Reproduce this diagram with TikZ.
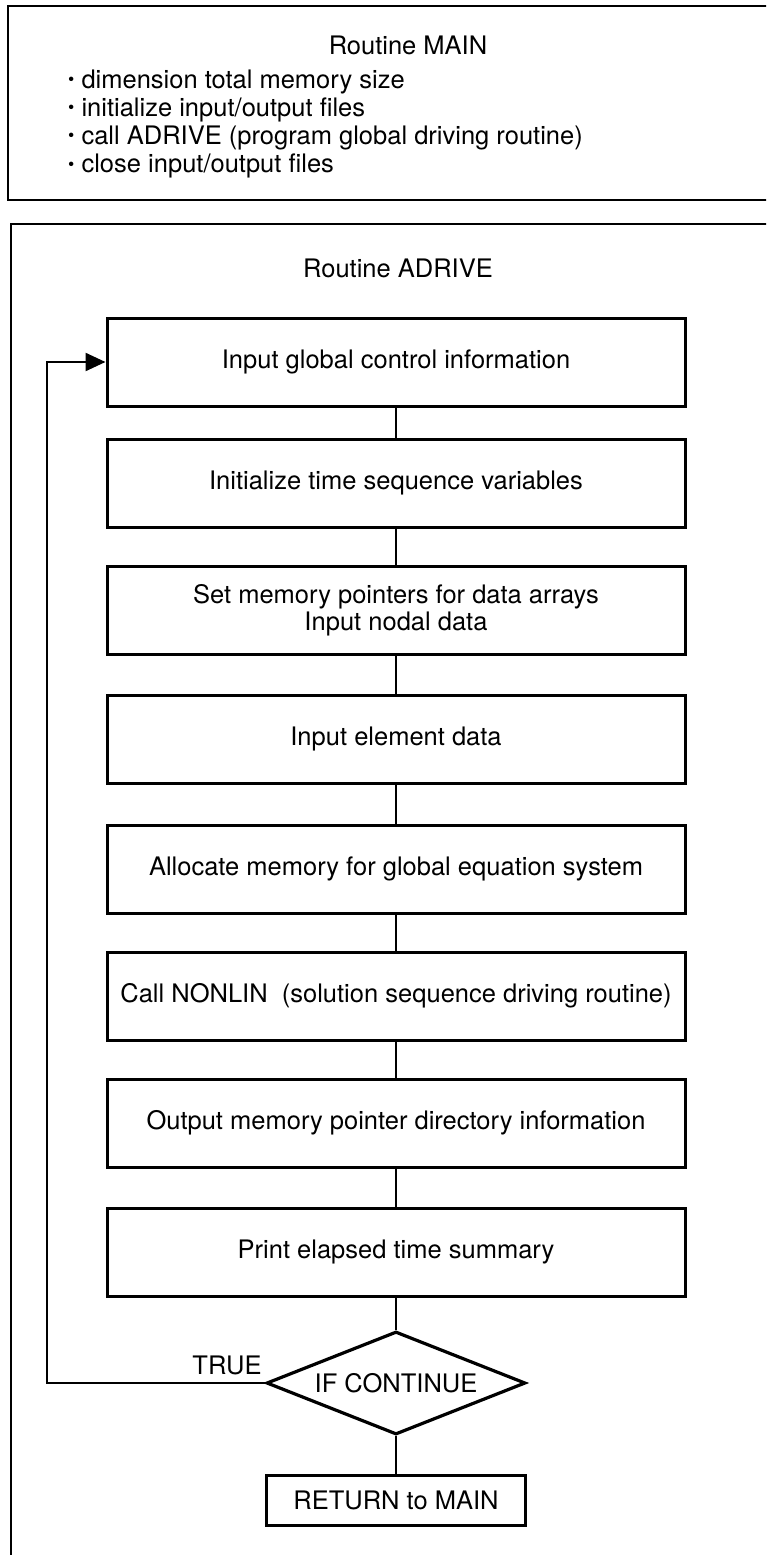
\documentclass[tikz,border=0pt]{standalone}
\usepackage{fontspec}
\setmainfont{TeX Gyre Heros}
\usetikzlibrary{shapes.geometric,arrows.meta}

\newcommand{\itemdot}{\raisebox{.2ex}{\scalebox{.7}{\textbullet}}\ }

\tikzset{
    procbox/.style={draw, line width=3pt, minimum width=578pt, minimum height=88pt, align=center, inner sep=0pt},
    decbox/.style={draw, diamond, aspect=2.5, line width=3.2pt, minimum width=259pt, minimum height=103pt, inner sep=0pt},
    endbox/.style={draw, line width=3pt, minimum width=259pt, minimum height=50pt, inner sep=0pt},
    link/.style={line width=2.4pt},
}

\begin{document}
\begin{tikzpicture}[x=1pt,y=-1pt,font=\fontsize{25.5}{28.3}\selectfont]
    \clip (0,0) rectangle (766,1555);

    % routine MAIN
    \draw[line width=2.6pt] (8,6) rectangle (815,200);
    \node (maintitle) at (408,45) {Routine MAIN};
    \node[anchor=west, align=left, inner sep=0pt] (mainlist) at (68,124)
        {\itemdot dimension total memory size\\
         \itemdot initialize input/output files\\
         \itemdot call ADRIVE (program global driving routine)\\
         \itemdot close input/output files};

    % routine ADRIVE
    \draw[line width=2.6pt] (11,224) rectangle (800,1600);
    \node (adtitle) at (398,268) {Routine ADRIVE};

    \node[procbox] (inglob) at (396,362) {Input global control information};
    \node[procbox] (initseq) at (396,483) {Initialize time sequence variables};
    \node[procbox, font=\fontsize{25.5}{27}\selectfont] (setmem) at (396,610)
        {Set memory pointers for data arrays\\Input nodal data};
    \node[procbox] (inelem) at (396,739) {Input element data};
    \node[procbox] (alloc) at (396,869) {Allocate memory for global equation system};
    \node[procbox] (nonlin) at (396,996) {Call NONLIN\ \ (solution sequence driving routine)};
    \node[procbox] (outmem) at (396,1123) {Output memory pointer directory information};
    \node[procbox] (prtime) at (396,1252) {Print elapsed time summary};
    \node[decbox] (cont) at (396,1383) {IF CONTINUE};
    \node[endbox] (retmain) at (396,1500) {RETURN to MAIN};

    \draw[link] (inglob) -- (initseq);
    \draw[link] (initseq) -- (setmem);
    \draw[link] (setmem) -- (inelem);
    \draw[link] (inelem) -- (alloc);
    \draw[link] (alloc) -- (nonlin);
    \draw[link] (nonlin) -- (outmem);
    \draw[link] (outmem) -- (prtime);
    \draw[link] (prtime) -- (cont);
    \draw[link] (cont) -- (retmain);

    % loop back
    \coordinate (loopcorner) at (47,1383);
    \draw[link, -{Triangle[length=20pt,width=18pt]}] (cont.west) -- (loopcorner) |- (inglob.west);
    \node (truelbl) at (227,1365) {TRUE};
\end{tikzpicture}
\end{document}
